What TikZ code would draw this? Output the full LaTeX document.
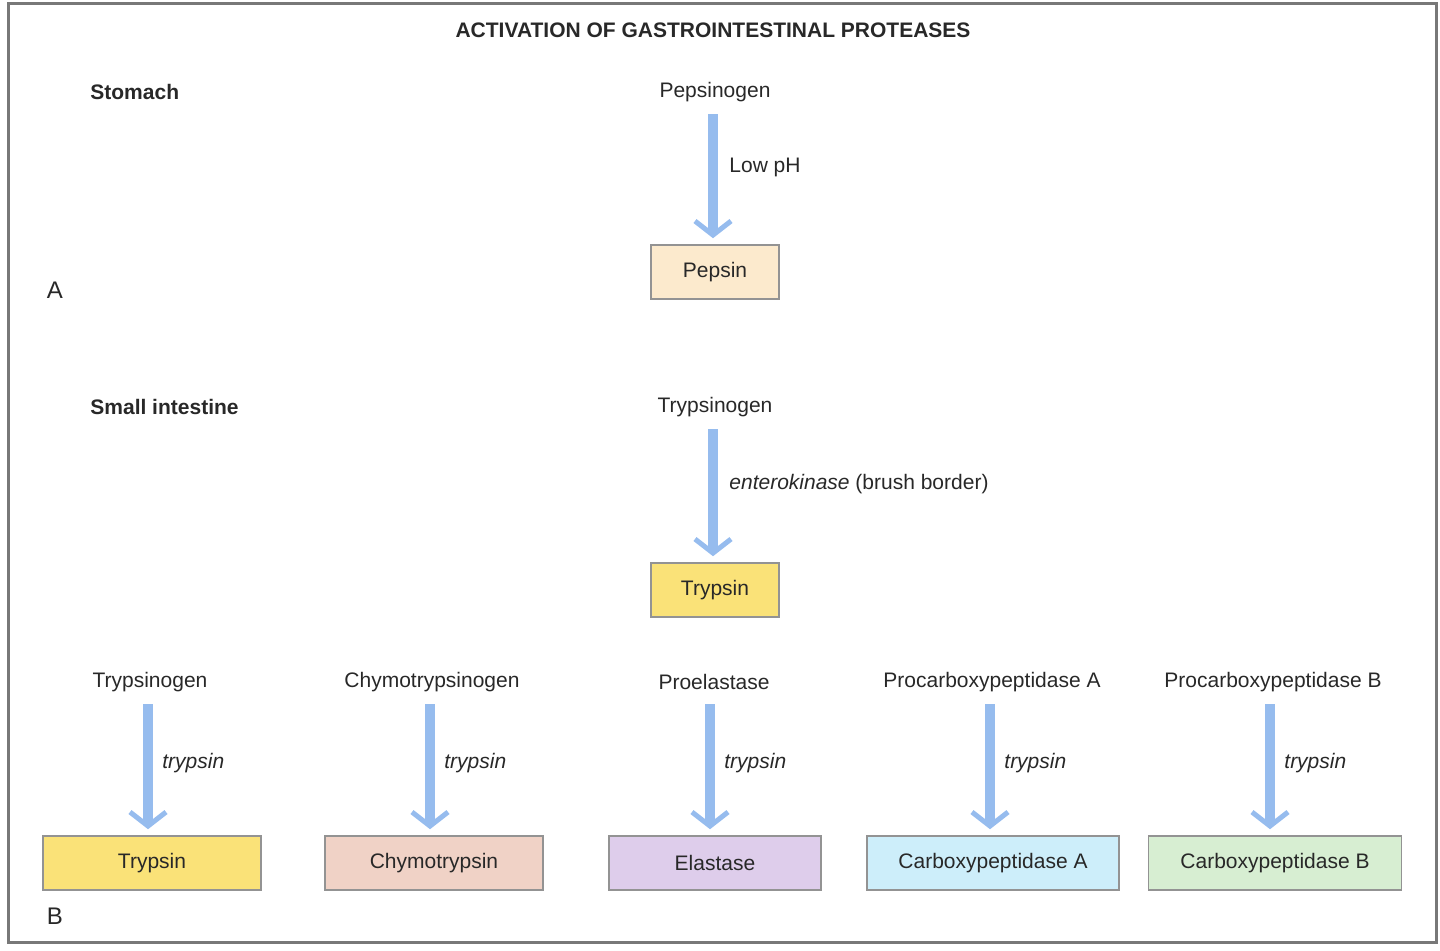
\documentclass[tikz,border=0pt]{standalone}
\usepackage{fontspec}
\setmainfont{Liberation Sans}
\usetikzlibrary{arrows.meta}
\definecolor{arr}{RGB}{150,188,238}
\definecolor{frame}{RGB}{120,120,120}
\definecolor{txt}{RGB}{40,40,40}
\definecolor{cPep}{RGB}{252,234,205}
\definecolor{cTry}{RGB}{250,226,120}
\definecolor{cChy}{RGB}{240,210,198}
\definecolor{cEla}{RGB}{222,205,235}
\definecolor{cCA}{RGB}{205,238,250}
\definecolor{cCB}{RGB}{215,238,210}
\tikzset{
  lbl/.style={text=txt,font=\fontsize{10.5}{12}\selectfont,inner sep=1pt},
  hd/.style={lbl,font=\fontsize{10.5}{12}\selectfont\bfseries},
  box/.style={draw=frame!80,line width=0.8pt,text=txt,font=\fontsize{10.5}{12}\selectfont,minimum height=27pt,inner sep=0pt},
  conv/.style={arr,line width=5pt,shorten <=5pt,shorten >=3pt,-{Straight Barb[length=7pt,width=18pt,line width=2.5pt]}},
  enz/.style={lbl,font=\fontsize{10.5}{12}\selectfont\itshape,anchor=west}
}
\begin{document}
\begin{tikzpicture}[x=0.5pt,y=-0.5pt]
\useasboundingbox (0,0) rectangle (1440,950);
\draw[frame,line width=1.5pt] (8,3) rectangle (1436,942);
\node[hd] (title) at (713,30) {ACTIVATION OF GASTROINTESTINAL PROTEASES};
\node[hd,anchor=west] (stom) at (88,92) {Stomach};
\node[lbl,font=\fontsize{12}{14}\selectfont] (A) at (55,290) {A};
\node[hd,anchor=west] (si) at (88,407) {Small intestine};
\node[lbl,font=\fontsize{12}{14}\selectfont] (B) at (55,916) {B};

\node[lbl] (pepg) at (715,92) {Pepsinogen};
\node[box,fill=cPep,minimum width=64pt] (pep) at (715,272) {Pepsin};
\draw[conv] (713,104) coordinate (p1) -- (p1 |- pep.north);
\node[enz,font=\fontsize{10.5}{12}\selectfont] (lph) at (727,167) {Low pH};

\node[lbl] (tryg) at (715,407) {Trypsinogen};
\node[box,fill=cTry,minimum width=64pt] (try) at (715,590) {Trypsin};
\draw[conv] (713,419) coordinate (t1) -- (t1 |- try.north);
\node[enz,font=\fontsize{10.5}{12}\selectfont] (ek) at (727,484) {\textit{enterokinase} (brush border)};

\foreach \n/\lx/\ax/\bx/\bw/\col/\src/\dst in {
  1/150/148/152/109/cTry/Trypsinogen/Trypsin,
  2/432/430/434/109/cChy/Chymotrypsinogen/Chymotrypsin,
  3/714/710/715/106/cEla/Proelastase/Elastase,
  4/992/990/993/126/cCA/Procarboxypeptidase A/Carboxypeptidase A,
  5/1273/1270/1275/126.5/cCB/Procarboxypeptidase B/Carboxypeptidase B}{
  \node[lbl] (s\n) at (\lx,682) {\src};
  \node[box,fill=\col,minimum width=\bw pt] (d\n) at (\bx,863) {\dst};
  \draw[conv] (\ax,694) coordinate (a\n) -- (a\n |- d\n.north);
  \node[enz] (e\n) at (\ax+12,763) {trypsin};
}
\end{tikzpicture}
\end{document}
